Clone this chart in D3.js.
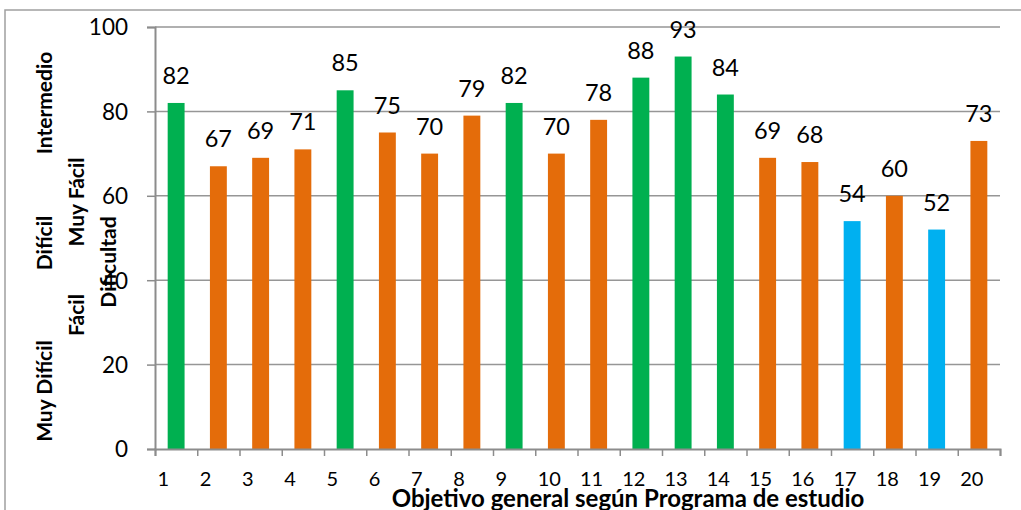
<!DOCTYPE html>
<html><head><meta charset="utf-8">
<script src="https://cdn.jsdelivr.net/npm/d3@7"></script>
<style>
body{margin:0;background:#fff;}
text{font-family:Lato, "Open Sans", sans-serif;fill:#000;}
</style></head>
<body><svg id="c" width="1021" height="510"></svg>
<script>
const categories = ["1","2","3","4","5","6","7","8","9","10","11","12","13","14","15","16","17","18","19","20"];
const values = [82,67,69,71,85,75,70,79,82,70,78,88,93,84,69,68,54,60,52,73];
const levels = ["F","O","O","O","F","O","O","O","F","O","O","F","F","F","O","O","B","O","B","O"];
const levelColors = {F:"#00B050", O:"#E46C0A", B:"#00B0F0"};
const yTicks = [0,20,40,60,80,100];
const xTitle = "Objetivo general según Programa de estudio";
const yTitle = "Dificultad";
const sideLabels1 = ["Muy Difícil","Difícil","Intermedio"];
const sideLabels2 = ["Fácil","Muy Fácil"];

const svg = d3.select("#c");
const m = {l:155, t:27, w:845, h:422};

// outer chart border
svg.append("rect").attr("x",5).attr("y",10).attr("width",1030).attr("height",520)
  .attr("fill","none").attr("stroke","#a0a0a0").attr("stroke-width",1.5);

const g = svg.append("g").attr("transform",`translate(${m.l},${m.t})`);
const x = d3.scaleBand().domain(categories).range([0,m.w]).paddingInner(0.6).paddingOuter(0.3);
const xl = d3.scaleLinear().domain([0,20]).range([0,m.w]);
const y = d3.scaleLinear().domain([0,100]).range([m.h,0]);

// gridlines
g.append("g").selectAll("line").data(yTicks.filter(d=>d>0)).join("line")
  .attr("x1",0).attr("x2",m.w).attr("y1",d=>y(d)).attr("y2",d=>y(d))
  .attr("stroke","#969696").attr("stroke-width",1.5);

// bars
g.append("g").selectAll("rect").data(values).join("rect")
  .attr("x",(d,i)=>x(categories[i])).attr("width",x.bandwidth())
  .attr("y",d=>y(d)).attr("height",d=>m.h-y(d))
  .attr("fill",(d,i)=>levelColors[levels[i]]);

// data labels
g.append("g").selectAll("text").data(values).join("text")
  .attr("x",(d,i)=>x(categories[i])+x.bandwidth()/2).attr("y",d=>y(d)-19)
  .attr("text-anchor","middle").style("font-size","23.5px").text(d=>d);

// y axis
const ya = g.append("g").call(d3.axisLeft(y).tickValues(yTicks).tickSize(8).tickPadding(0));
ya.select(".domain").attr("stroke","#8c8c8c").attr("stroke-width",2);
ya.selectAll(".tick line").attr("stroke","#8c8c8c").attr("stroke-width",1.5);
ya.selectAll(".tick text").attr("x",-27).attr("dy","0.35em")
  .style("font-size","22.5px").style("font-family","Lato, sans-serif");

// x axis
const xa = g.append("g").attr("transform",`translate(0,${m.h})`)
  .call(d3.axisBottom(xl).ticks(20).tickSize(7).tickFormat(d=>d<20?categories[d]:""));
xa.select(".domain").attr("stroke","#8c8c8c").attr("stroke-width",2);
xa.selectAll(".tick line").attr("stroke","#8c8c8c").attr("stroke-width",1.5);
xa.selectAll(".tick text").attr("x",2).attr("y",37).attr("dy",0).attr("text-anchor","start")
  .style("font-size","20px").style("font-family","Lato, sans-serif");

// x title
svg.append("text").attr("x",628).attr("y",507).attr("text-anchor","middle")
  .style("font-size","24px").style("font-weight","bold").text(xTitle);

// side labels
function rot(txt,cx,cy){
  svg.append("text").attr("transform",`translate(${cx},${cy}) rotate(-90)`)
    .attr("text-anchor","middle").style("font-size","21px").style("font-weight","bold").text(txt);
}
const ys1=[391,243,103];
sideLabels1.forEach((t,i)=>rot(t,52,ys1[i]));
const ys2=[315,202];
sideLabels2.forEach((t,i)=>rot(t,84,ys2[i]));
rot(yTitle,116,262);
</script></body></html>
